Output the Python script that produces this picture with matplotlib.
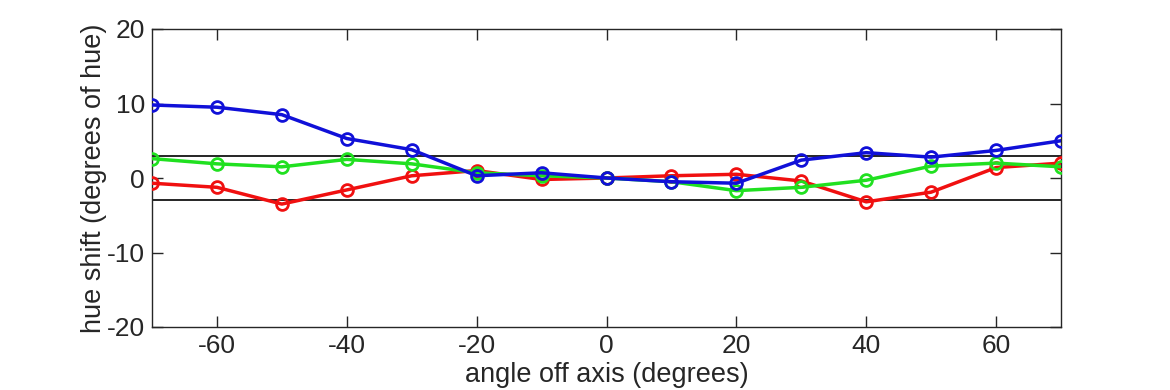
import numpy as np
import matplotlib.pyplot as plt

plt.rcParams['font.family'] = ['Liberation Sans', 'DejaVu Sans']

# angle off axis (degrees)
angles = [-70, -60, -50, -40, -30, -20, -10, 0, 10, 20, 30, 40, 50, 60, 70]

# hue shift per channel (degrees of hue)
red_shift = [-0.7, -1.25, -3.5, -1.6, 0.3, 1.0, -0.2, 0.0, 0.3, 0.5, -0.4, -3.2, -1.9, 1.4, 2.0]
green_shift = [2.6, 1.9, 1.5, 2.5, 1.9, 0.7, 0.3, 0.0, -0.5, -1.7, -1.25, -0.3, 1.6, 2.0, 1.5]
blue_shift = [9.8, 9.5, 8.5, 5.3, 3.8, 0.3, 0.7, 0.0, -0.5, -0.7, 2.4, 3.4, 2.8, 3.7, 5.0]

limit = 3

fig = plt.figure(figsize=(11.7, 3.9), dpi=100)
ax = fig.add_axes([152 / 1170, 1 - 327 / 390, 909 / 1170, 298 / 390])

ax.axhline(limit, color='black', linewidth=1.2, zorder=1)
ax.axhline(-limit, color='black', linewidth=1.2, zorder=1)

style = dict(marker='o', markersize=8.5, markerfacecolor='none',
             markeredgewidth=2, linewidth=2.5)
ax.plot(angles, red_shift, color='#f01010', **style, zorder=3)
ax.plot(angles, green_shift, color='#20e020', **style, zorder=4)
ax.plot(angles, blue_shift, color='#1010d8', **style, zorder=5)

ax.set_xlim(-70, 70)
ax.set_ylim(-20, 20)
ax.set_xticks([-60, -40, -20, 0, 20, 40, 60])
ax.set_yticks([-20, -10, 0, 10, 20])
ax.set_yticklabels(['-20', '-10', '0', '10', '20'])
ax.set_xticklabels(['-60', '-40', '-20', '0', '20', '40', '60'])

ax.tick_params(direction='in', length=8, width=1, top=True, right=True,
               labelsize=19, colors='#262626', pad=5)
for s in ax.spines.values():
    s.set_color('#262626')
    s.set_linewidth(1)

ax.set_xlabel('angle off axis (degrees)', fontsize=19.5, color='#262626', labelpad=3)
ax.set_ylabel('hue shift (degrees of hue)', fontsize=19.5, color='#262626', labelpad=0)

fig.savefig('out.png', dpi=100)
